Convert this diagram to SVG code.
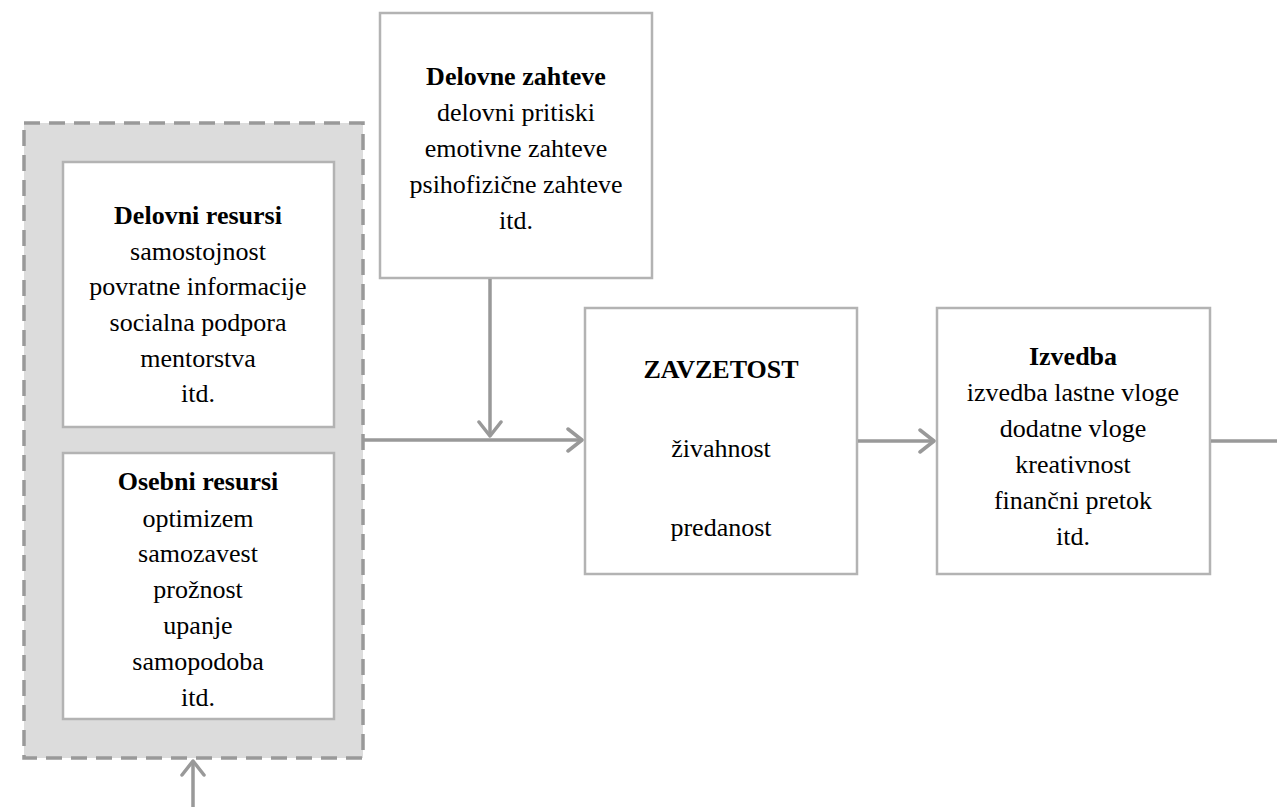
<svg xmlns="http://www.w3.org/2000/svg" width="1277" height="807" viewBox="0 0 1277 807">
<style>
.box{fill:#fff;stroke:#b3b3b3;stroke-width:2.5}
.t{font-family:"Liberation Serif","Times New Roman",serif;font-size:26px;fill:#000;text-anchor:middle}
.b{font-weight:bold}
.c{fill:none;stroke:#999;stroke-width:3.5}
</style>
<defs>
<marker id="ah" viewBox="0 0 20 26" refX="17" refY="13" markerWidth="20" markerHeight="26" markerUnits="userSpaceOnUse" orient="auto">
<path d="M3,2 L17,13 L3,24" fill="none" stroke="#999" stroke-width="3.5" stroke-linecap="round" stroke-linejoin="round"/>
</marker>
</defs>
<rect width="1277" height="807" fill="#fff"/>
<g id="resources">
<rect x="24" y="123" width="339" height="635" fill="#dcdcdc" stroke="#999" stroke-width="3.5" stroke-dasharray="16,9"/>
</g>
<g id="delovni-resursi">
<rect class="box" x="63" y="162" width="271" height="265"/>
<text class="t b" x="198" y="224">Delovni resursi</text>
<text class="t" x="198" y="260">samostojnost</text>
<text class="t" x="198" y="295">povratne informacije</text>
<text class="t" x="198" y="331">socialna podpora</text>
<text class="t" x="198" y="367">mentorstva</text>
<text class="t" x="198" y="402">itd.</text>
</g>
<g id="osebni-resursi">
<rect class="box" x="63" y="453" width="271" height="266"/>
<text class="t b" x="198" y="490">Osebni resursi</text>
<text class="t" x="198" y="527">optimizem</text>
<text class="t" x="198" y="562">samozavest</text>
<text class="t" x="198" y="598">prožnost</text>
<text class="t" x="198" y="634">upanje</text>
<text class="t" x="198" y="670">samopodoba</text>
<text class="t" x="198" y="706">itd.</text>
</g>
<g id="delovne-zahteve">
<rect class="box" x="380" y="13" width="272" height="265"/>
<text class="t b" x="516" y="85">Delovne zahteve</text>
<text class="t" x="516" y="121">delovni pritiski</text>
<text class="t" x="516" y="157">emotivne zahteve</text>
<text class="t" x="516" y="193">psihofizične zahteve</text>
<text class="t" x="516" y="229">itd.</text>
</g>
<g id="zavzetost">
<rect class="box" x="585" y="308" width="272" height="266"/>
<text class="t b" x="721" y="378">ZAVZETOST</text>
<text class="t" x="721" y="457">živahnost</text>
<text class="t" x="721" y="536">predanost</text>
</g>
<g id="izvedba">
<rect class="box" x="937" y="308" width="273" height="266"/>
<text class="t b" x="1073" y="365">Izvedba</text>
<text class="t" x="1073" y="401">izvedba lastne vloge</text>
<text class="t" x="1073" y="437">dodatne vloge</text>
<text class="t" x="1073" y="473">kreativnost</text>
<text class="t" x="1073" y="509">finančni pretok</text>
<text class="t" x="1073" y="545">itd.</text>
</g>
<g id="connectors">
<path class="c" d="M364,440 L582,440" marker-end="url(#ah)"/>
<path class="c" d="M490,279 L490,436" marker-end="url(#ah)"/>
<path class="c" d="M858,441 L934,441" marker-end="url(#ah)"/>
<path class="c" d="M1211,441 L1277,441"/>
<path class="c" d="M193,807 L193,761" marker-end="url(#ah)"/>
</g>
</svg>
